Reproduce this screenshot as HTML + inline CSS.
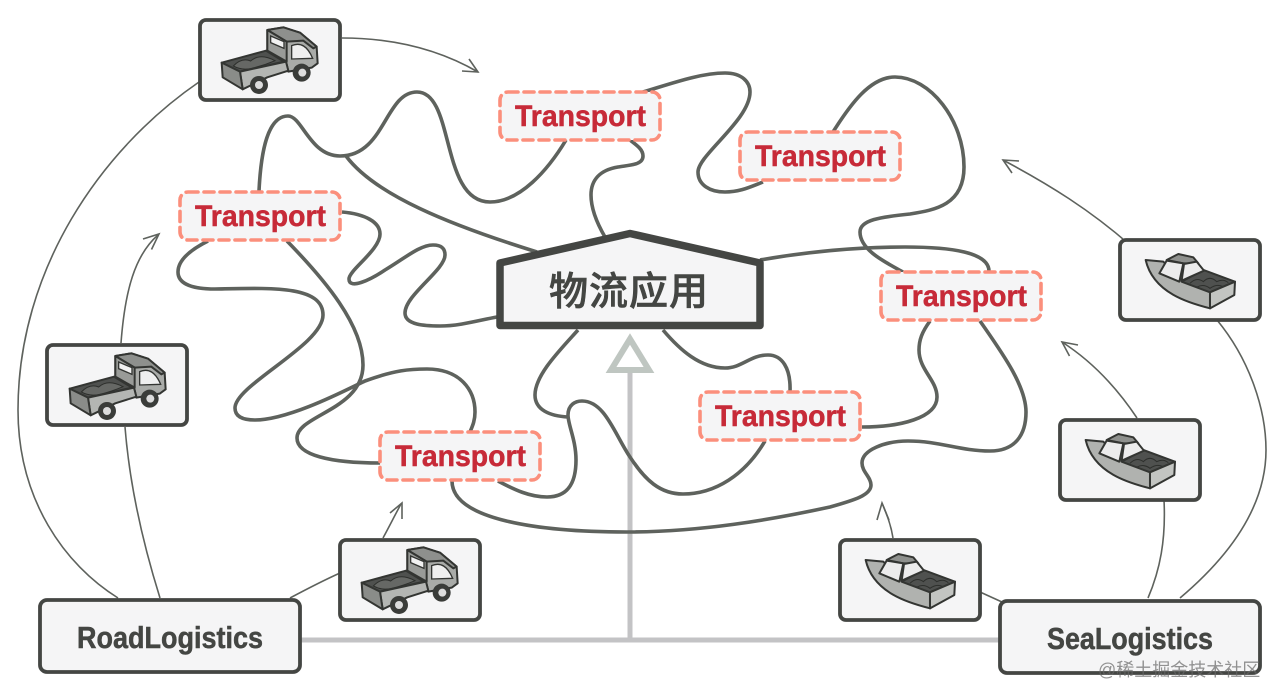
<!DOCTYPE html>
<html lang="zh">
<head>
<meta charset="utf-8">
<title>物流应用</title>
<style>
html,body{margin:0;padding:0;background:#fff;width:1280px;height:700px;overflow:hidden}
svg{display:block}
.sq{fill:none;stroke:#5e625d;stroke-width:3.6;stroke-linecap:butt}
.th{fill:none;stroke:#5e625d;stroke-width:1.6}
.tb{fill:#f5f5f6;stroke:#fb8f7c;stroke-width:3.6;stroke-dasharray:10 6;stroke-linecap:round}
.tt{font-family:"Liberation Sans",sans-serif;font-weight:700;font-size:30px;fill:#c72a38;stroke:#c72a38;stroke-width:.5}
.bx{fill:#f5f5f6;stroke:#444643;stroke-width:3.8}
.lg{font-family:"Liberation Sans",sans-serif;font-weight:700;font-size:31px;fill:#444643;stroke:#444643;stroke-width:.5}
.k{stroke:#333532;stroke-width:6;stroke-linejoin:round}
</style>
</head>
<body>
<svg width="1280" height="700" viewBox="0 0 1280 700" xmlns="http://www.w3.org/2000/svg">
<defs>
<g id="truck">
  <path class="k" fill="#a9aba8" d="M262 90 L310 82 L360 98 L410 140 L413 190 L395 203 L325 215 L318 185 L262 152 Z"/>
  <path class="k" fill="#8e908d" stroke-width="4" d="M262 90 L310 82 L360 98 L410 140 L400 145 L370 122 L320 125 Z"/>
  <path class="k" fill="#999b98" d="M262 90 L320 125 L320 185 L262 152 Z"/>
  <path fill="#f1f1f1" stroke="#333532" stroke-width="4" d="M272 108 L312 125 L312 145 L272 128 Z"/>
  <path fill="#efefef" stroke="#333532" stroke-width="4" d="M335 137 Q375 120 398 175 L335 177 Z"/>
  <path class="k" fill="#4f514f" d="M125 188 L258 152 L312 185 L180 215 Z"/>
  <path fill="#666865" stroke="#2d2f2c" stroke-width="3" d="M160 198 Q185 172 212 183 Q240 158 285 182 Q250 197 215 205 Q185 212 160 198 Z"/>
  <path class="k" fill="#b4b6b3" d="M180 215 L318 185 L325 212 L262 232 L188 268 Z"/>
  <path class="k" fill="#8a8c89" d="M125 188 L180 215 L188 268 L128 232 Z"/>
  <circle cx="237" cy="255" r="27" fill="#3a3c39"/>
  <circle cx="237" cy="255" r="12" fill="#dcdcdc"/>
  <circle cx="365" cy="218" r="27" fill="#3a3c39"/>
  <circle cx="367" cy="218" r="12" fill="#dcdcdc"/>
</g>
<g id="boat">
  <path class="k" fill="#b0b2af" d="M137 90 L190 95 L245 150 L330 185 L330 235 C270 220 160 190 137 90 Z"/>
  <path class="k" fill="#4f514f" d="M245 155 L310 120 L405 155 L330 187 Z"/>
  <path fill="none" stroke="#2d2f2c" stroke-width="3" d="M270 160 Q290 140 310 155 Q330 135 350 155 Q370 145 385 158 M290 172 Q310 160 330 175 Q350 160 370 170"/>
  <path class="k" fill="#c3c5c2" d="M330 187 L405 155 L403 195 L330 235 Z"/>
  <path class="k" fill="#8e908d" d="M200 90 L235 72 L280 82 L295 100 L250 100 Z"/>
  <path fill="#ececec" stroke="#333532" stroke-width="6" stroke-linejoin="round" d="M178 130 L200 92 L250 100 L238 155 Z"/>
  <path fill="#ececec" stroke="#333532" stroke-width="6" stroke-linejoin="round" d="M245 152 L252 102 L290 95 L312 122 Z"/>
</g>
</defs>

<!-- thin lines -->
<path class="th" d="M199 82 C100 150 18 270 18 410 C18 500 65 565 118 598"/>
<path class="th" d="M125 427 C130 490 145 550 160 598"/>
<path class="th" d="M121 343 C125 290 135 255 158 235"/>
<polyline class="th" points="143,239 159,234 151.5,249.5"/>
<path class="th" d="M342 38 C395 38 440 50 478 72"/>
<polyline class="th" points="462,71 478,72 469,59"/>
<path class="th" d="M340 573 C320 582 305 590 290 598"/>
<path class="th" d="M383 538 C390 525 395 515 401 504"/>
<polyline class="th" points="390,513 402,503 402,519"/>
<path class="th" d="M1130 245 C1090 210 1050 185 1003 160"/>
<polyline class="th" points="1019,161 1003,160 1012,173"/>
<path class="th" d="M1217 320 C1250 360 1266 410 1266 450 C1266 510 1225 560 1180 598"/>
<path class="th" d="M1137 418 C1115 385 1090 360 1062 342"/>
<polyline class="th" points="1078,345 1062,342 1069.5,356"/>
<path class="th" d="M1164 500 C1166 540 1160 570 1148 598"/>
<path class="th" d="M893 538 C891 525 887 515 882 503"/>
<polyline class="th" points="877,520 882,503 889,520"/>
<path class="th" d="M980 592 L1002 602"/>

<!-- inheritance -->
<path d="M300 640 H1000 M630 640 V372" fill="none" stroke="#c3c3c5" stroke-width="5"/>
<polygon points="630,339 611,370 649,370" fill="#fff" stroke="#bfc6c1" stroke-width="6"/>

<!-- squiggles -->
<path class="sq" d="M259 191 C261 150 268 116 288 116 C302 116 310 156 340 156 C385 156 385 92 417 92 C455 92 440 202 490 202 C520 202 548 170 566 140"/>
<path class="sq" d="M346 156 C375 195 450 225 537 252"/>
<path class="sq" d="M342 212 C365 214 380 222 380 234 C380 250 349 270 349 279 C349 290 370 280 385 270 C405 258 420 245 433 245 C443 245 445 250 445 255 C445 270 405 295 405 313 C405 325 425 326 440 326 C460 326 480 320 497 317"/>
<path class="sq" d="M208 241 C190 250 178 260 178 272 C178 285 195 289 215 289 C270 288 323 285 323 315 C323 345 235 385 235 408 C235 418 245 420 255 420 C290 420 350 388 365 381 C395 370 410 369 427 369 C460 369 475 390 475 412 C475 420 473 425 470 432"/>
<path class="sq" d="M287 241 C325 280 363 325 363 365 C363 410 297 415 297 438 C297 455 330 463 380 463"/>
<path class="sq" d="M498 481 C515 490 530 497 547 497 C570 497 576 480 576 460 C576 440 568 425 568 415 C568 405 575 401 582 401 C605 401 615 435 630 457 C645 480 660 494 683 494 C715 494 745 475 765 441"/>
<path class="sq" d="M578 330 C560 350 535 375 535 395 C535 410 550 416 568 417"/>
<path class="sq" d="M663 330 C680 350 700 368 725 368 C742 368 750 355 768 355 C782 355 791 368 790 392"/>
<path class="sq" d="M452 481 C452 520 540 532 627 532 C700 532 770 520 830 507 C855 500 871 495 871 485 C871 477 862 472 862 463 C862 450 885 441 908 441 C940 441 960 451 990 451 C1015 451 1026 435 1026 412 C1026 385 1000 350 980 321"/>
<path class="sq" d="M930 321 C922 332 919 340 919 350 C919 370 937 380 937 397 C937 418 900 427 862 427"/>
<path class="sq" d="M760 260 C800 253 850 247 905 247 C950 247 990 252 989 272"/>
<path class="sq" d="M833 132 C850 105 870 77 895 77 C930 77 964 120 964 167 C964 205 935 210 910 214 C880 217 860 220 860 232 C860 250 885 262 903 272"/>
<path class="sq" d="M643 92 C670 84 700 73 725 73 C742 73 750 82 750 92 C750 120 698 155 698 172 C698 185 710 192 725 192 C740 192 750 187 763 182"/>
<path class="sq" d="M630 140 C638 146 643 150 643 156 C643 165 630 165 618 167 C600 170 591 180 591 195 C591 210 598 225 605 237"/>

<!-- central node -->
<polygon points="500,263 630,233.5 760,263 760,325.5 500,325.5" fill="#f5f5f6" stroke="#444643" stroke-width="7.5" stroke-linejoin="round"/>
<text x="629" y="305" text-anchor="middle" font-family="'Liberation Sans','Noto Sans CJK SC',sans-serif" font-size="39" font-weight="500" letter-spacing="1" fill="#444643" stroke="#444643" stroke-width=".6">物流应用</text>

<!-- Transport boxes -->
<rect class="tb" x="180" y="192" width="160" height="48" rx="8"/>
<text class="tt" x="195" y="226" textLength="131" lengthAdjust="spacingAndGlyphs">Transport</text>
<rect class="tb" x="500" y="92" width="160" height="48" rx="8"/>
<text class="tt" x="515" y="126" textLength="131" lengthAdjust="spacingAndGlyphs">Transport</text>
<rect class="tb" x="740" y="132" width="160" height="48" rx="8"/>
<text class="tt" x="755" y="166" textLength="131" lengthAdjust="spacingAndGlyphs">Transport</text>
<rect class="tb" x="881" y="272" width="160" height="48" rx="8"/>
<text class="tt" x="896" y="306" textLength="131" lengthAdjust="spacingAndGlyphs">Transport</text>
<rect class="tb" x="700" y="392" width="160" height="48" rx="8"/>
<text class="tt" x="715" y="426" textLength="131" lengthAdjust="spacingAndGlyphs">Transport</text>
<rect class="tb" x="380" y="432" width="160" height="48" rx="8"/>
<text class="tt" x="395" y="466" textLength="131" lengthAdjust="spacingAndGlyphs">Transport</text>

<!-- vehicle boxes -->
<rect class="bx" x="200" y="20" width="140" height="80" rx="6"/>
<use href="#truck" transform="translate(180,0) scale(.3333)"/>
<rect class="bx" x="47" y="345" width="140" height="80" rx="6"/>
<use href="#truck" transform="translate(28,326) scale(.3333)"/>
<rect class="bx" x="340" y="540" width="140" height="80" rx="6"/>
<use href="#truck" transform="translate(320,520) scale(.3333)"/>
<rect class="bx" x="1120" y="240" width="140" height="80" rx="6"/>
<use href="#boat" transform="translate(1100,230) scale(.3333)"/>
<rect class="bx" x="1060" y="420" width="140" height="80" rx="6"/>
<use href="#boat" transform="translate(1040,410) scale(.3333)"/>
<rect class="bx" x="840" y="540" width="140" height="80" rx="6"/>
<use href="#boat" transform="translate(820,530) scale(.3333)"/>

<!-- logistic boxes -->
<rect class="bx" x="40" y="600" width="260" height="72" rx="7"/>
<text class="lg" x="77" y="648" textLength="186" lengthAdjust="spacingAndGlyphs">RoadLogistics</text>
<rect class="bx" x="1000" y="601" width="260" height="72" rx="7"/>
<text class="lg" x="1047" y="649" textLength="166" lengthAdjust="spacingAndGlyphs">SeaLogistics</text>

<!-- watermark -->
<text x="1098" y="676" font-family="'Liberation Sans','Noto Sans CJK SC',sans-serif" font-size="18" fill="#666" fill-opacity=".7">@稀土掘金技术社区</text>
</svg>
</body>
</html>
